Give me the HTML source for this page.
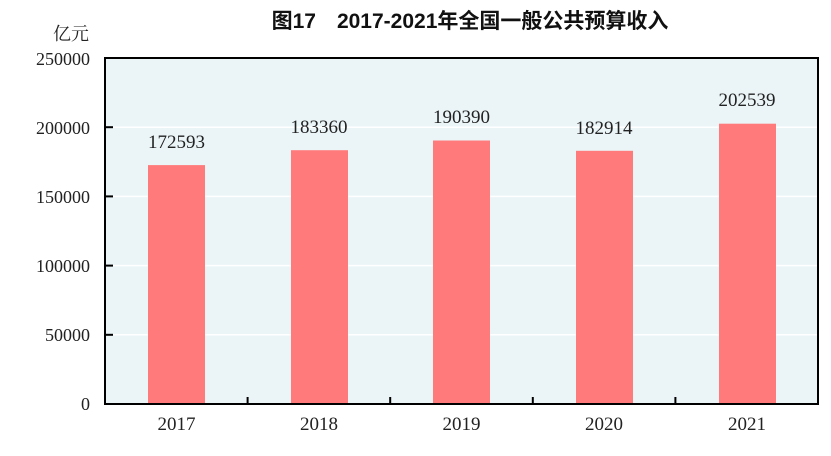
<!DOCTYPE html>
<html><head><meta charset="utf-8"><style>
body{margin:0;background:#fff;}
svg{display:block;}
</style></head><body>
<svg width="831" height="456" xmlns="http://www.w3.org/2000/svg">
<text x="470" y="28" text-anchor="middle" font-family="'Liberation Sans','Noto Sans CJK SC',sans-serif" font-size="21" font-weight="bold" fill="#111">图17　2017-2021年全国一般公共预算收入</text>
<text x="89" y="40" text-anchor="end" font-family="'Liberation Serif','Noto Serif CJK SC',serif" font-size="18" fill="#222">亿元</text>
<rect x="105" y="58" width="713" height="346" fill="#ebf5f8"/>
<g stroke="#fff" stroke-width="1.5">
<line x1="105" y1="127.2" x2="818" y2="127.2"/>
<line x1="105" y1="196.4" x2="818" y2="196.4"/>
<line x1="105" y1="265.6" x2="818" y2="265.6"/>
<line x1="105" y1="334.8" x2="818" y2="334.8"/>
</g>
<g fill="#ff7b7b">
<rect x="148" y="165.1" width="57" height="238.9"/>
<rect x="291" y="150.2" width="57" height="253.8"/>
<rect x="433" y="140.5" width="57" height="263.5"/>
<rect x="576" y="150.8" width="57" height="253.2"/>
<rect x="719" y="123.7" width="57" height="280.3"/>
</g>
<rect x="105" y="58" width="713" height="346" fill="none" stroke="#000" stroke-width="2"/>
<g stroke="#000" stroke-width="2">
<line x1="105" y1="127.2" x2="113" y2="127.2"/>
<line x1="105" y1="196.4" x2="113" y2="196.4"/>
<line x1="105" y1="265.6" x2="113" y2="265.6"/>
<line x1="105" y1="334.8" x2="113" y2="334.8"/>
<line x1="247.6" y1="404" x2="247.6" y2="397"/>
<line x1="390.2" y1="404" x2="390.2" y2="397"/>
<line x1="532.8" y1="404" x2="532.8" y2="397"/>
<line x1="675.4" y1="404" x2="675.4" y2="397"/>
</g>
<g font-family="'Liberation Serif',serif" font-size="18" fill="#222" text-anchor="end">
<text x="90" y="65">250000</text>
<text x="90" y="134">200000</text>
<text x="90" y="203">150000</text>
<text x="90" y="272">100000</text>
<text x="90" y="341">50000</text>
<text x="90" y="410">0</text>
</g>
<g font-family="'Liberation Serif',serif" font-size="19" fill="#222" text-anchor="middle">
<text x="176.5" y="430">2017</text>
<text x="319" y="430">2018</text>
<text x="461.5" y="430">2019</text>
<text x="604" y="430">2020</text>
<text x="747" y="430">2021</text>
</g>
<g font-family="'Liberation Serif',serif" font-size="19" fill="#222" text-anchor="middle">
<text x="176.5" y="148">172593</text>
<text x="319" y="133">183360</text>
<text x="461.5" y="123">190390</text>
<text x="604" y="134">182914</text>
<text x="747" y="106">202539</text>
</g>
</svg>
</body></html>
